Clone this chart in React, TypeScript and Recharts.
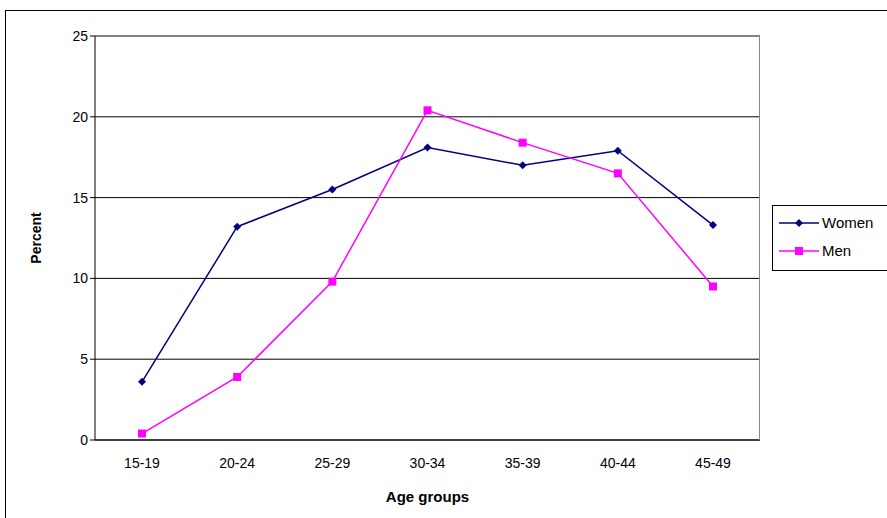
import React from "react";
import { LineChart, Line, XAxis, YAxis, CartesianGrid, ReferenceLine } from "recharts";

const categories = ["15-19", "20-24", "25-29", "30-34", "35-39", "40-44", "45-49"];
const women = [3.6, 13.2, 15.5, 18.1, 17.0, 17.9, 13.3];
const men = [0.4, 3.9, 9.8, 20.4, 18.4, 16.5, 9.5];
const yTicks = [0, 5, 10, 15, 20, 25];

const data = categories.map((c, i) => ({ cat: c, Women: women[i], Men: men[i] }));

const Diamond = (p: any) => {
  const { cx, cy } = p;
  if (cx == null) return null;
  return <polygon key={p.index} points={`${cx},${cy - 4} ${cx + 4},${cy} ${cx},${cy + 4} ${cx - 4},${cy}`} fill="#000080" />;
};
const Square = (p: any) => {
  const { cx, cy } = p;
  if (cx == null) return null;
  return <rect key={p.index} x={cx - 4} y={cy - 4} width={8} height={8} fill="#FF00FF" />;
};

export default function App() {
  const font = "Arial, 'Liberation Sans', sans-serif";
  return (
    <div style={{ position: "absolute", left: 0, top: 0, width: 887, height: 518, background: "#fff", fontFamily: font, overflow: "hidden" }}>
      <div style={{ position: "absolute", left: 5, top: 10, width: 900, height: 520, border: "1.5px solid #000" }} />
      <LineChart width={887} height={518} data={data} margin={{ top: 36, right: 127, bottom: 0, left: 0 }}>
        <CartesianGrid horizontal vertical={false} stroke="#000" />
        <XAxis dataKey="cat" padding={{ left: 47, right: 47 }} tick={{ fill: "#000", fontSize: 14, fontFamily: font }} tickLine={false} axisLine={{ stroke: "#000" }} tickMargin={12} height={78}
          label={{ value: "Age groups", position: "insideBottom", offset: 16, style: { fontWeight: "bold", fontSize: 15, fill: "#000", fontFamily: font } }} />
        <YAxis domain={[0, 25]} ticks={yTicks} width={95} tick={{ fill: "#000", fontSize: 14, fontFamily: font }} tickSize={5} tickLine={{ stroke: "#000" }} axisLine={{ stroke: "#000" }}
          label={{ value: "Percent", angle: -90, position: "insideLeft", offset: 36, style: { fontWeight: "bold", fontSize: 14, fill: "#000", fontFamily: font, textAnchor: "middle" } }} />
        <ReferenceLine y={25} stroke="#888" />
        <Line dataKey="Women" stroke="#000080" strokeWidth={1.5} dot={<Diamond />} isAnimationActive={false} />
        <Line dataKey="Men" stroke="#FF00FF" strokeWidth={1.5} dot={<Square />} isAnimationActive={false} />
      </LineChart>
      <div style={{ position: "absolute", left: 95, top: 36, width: 665, height: 404, borderRight: "1px solid #888", boxSizing: "border-box", pointerEvents: "none" }} />
      <div style={{ position: "absolute", left: 772, top: 205, width: 130, height: 64, border: "1px solid #000", fontSize: 15, color: "#000" }}>
        <div style={{ position: "absolute", left: 6, top: 8, display: "flex", alignItems: "center" }}>
          <svg width={40} height={10}><line x1={0} y1={5} x2={40} y2={5} stroke="#000080" strokeWidth={1.5} /><polygon points="20,1 24,5 20,9 16,5" fill="#000080" /></svg>
          <span style={{ marginLeft: 3 }}>Women</span>
        </div>
        <div style={{ position: "absolute", left: 6, top: 36, display: "flex", alignItems: "center" }}>
          <svg width={40} height={10}><line x1={0} y1={5} x2={40} y2={5} stroke="#FF00FF" strokeWidth={1.5} /><rect x={16} y={1} width={8} height={8} fill="#FF00FF" /></svg>
          <span style={{ marginLeft: 3 }}>Men</span>
        </div>
      </div>
    </div>
  );
}
